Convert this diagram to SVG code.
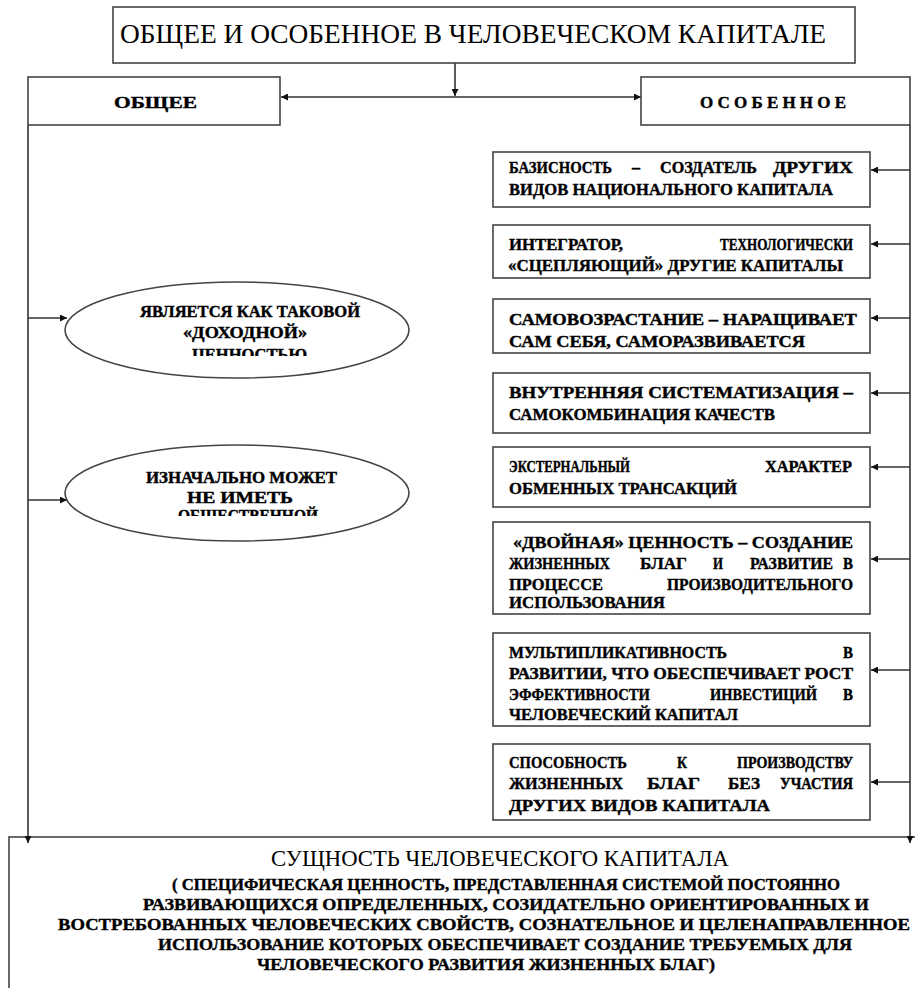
<svg xmlns="http://www.w3.org/2000/svg" width="915" height="988" viewBox="0 0 915 988">
<style>
.box{fill:#fff;stroke:#444;stroke-width:1.6}
.ln{fill:none;stroke:#333;stroke-width:1.6}
.t{font-family:"Liberation Serif","Times New Roman",serif;font-weight:bold;font-size:17px;fill:#000;stroke:#000;stroke-width:0.4px}
.e{font-family:"Liberation Serif","Times New Roman",serif;font-weight:bold;font-size:16px;fill:#000;stroke:#000;stroke-width:0.4px}
.n{font-family:"Liberation Serif","Times New Roman",serif;font-weight:normal;fill:#000}
</style>
<defs>
<marker id="ah" viewBox="0 0 10 10" refX="10" refY="5" markerWidth="9" markerHeight="7" markerUnits="userSpaceOnUse" orient="auto">
<path d="M0,0 L10,5 L0,10 z" fill="#111"/>
</marker>
<clipPath id="c1"><rect x="60" y="280" width="360" height="76"/></clipPath>
<clipPath id="c2"><rect x="60" y="440" width="360" height="76"/></clipPath>
</defs>

<g id="bottom">
<rect class="box" x="9" y="837" width="930" height="200"/>
<text class="n" x="271" y="866" font-size="23" textLength="458" lengthAdjust="spacingAndGlyphs">СУЩНОСТЬ ЧЕЛОВЕЧЕСКОГО КАПИТАЛА</text>
<text class="t" x="172" y="890" textLength="668" lengthAdjust="spacingAndGlyphs">( СПЕЦИФИЧЕСКАЯ ЦЕННОСТЬ, ПРЕДСТАВЛЕННАЯ СИСТЕМОЙ ПОСТОЯННО</text>
<text class="t" x="143" y="910" textLength="726" lengthAdjust="spacingAndGlyphs">РАЗВИВАЮЩИХСЯ ОПРЕДЕЛЕННЫХ, СОЗИДАТЕЛЬНО ОРИЕНТИРОВАННЫХ И</text>
<text class="t" x="58" y="930" textLength="852" lengthAdjust="spacingAndGlyphs">ВОСТРЕБОВАННЫХ ЧЕЛОВЕЧЕСКИХ СВОЙСТВ, СОЗНАТЕЛЬНОЕ И ЦЕЛЕНАПРАВЛЕННОЕ</text>
<text class="t" x="158" y="950" textLength="694" lengthAdjust="spacingAndGlyphs">ИСПОЛЬЗОВАНИЕ КОТОРЫХ ОБЕСПЕЧИВАЕТ СОЗДАНИЕ ТРЕБУЕМЫХ ДЛЯ</text>
<text class="t" x="257" y="970" textLength="458" lengthAdjust="spacingAndGlyphs">ЧЕЛОВЕЧЕСКОГО РАЗВИТИЯ ЖИЗНЕННЫХ БЛАГ)</text>
</g>

<g id="connectors">
<path class="ln" d="M455,63 V96" marker-end="url(#ah)"/>
<path class="ln" d="M455,97 H281" marker-end="url(#ah)"/>
<path class="ln" d="M455,97 H641" marker-end="url(#ah)"/>
<path class="ln" d="M28,125 V843" marker-end="url(#ah)"/>
<path class="ln" d="M910,125 V843" marker-end="url(#ah)"/>
<path class="ln" d="M28,318 H67" marker-end="url(#ah)"/>
<path class="ln" d="M28,500 H67" marker-end="url(#ah)"/>
<path class="ln" d="M910,170 H871" marker-end="url(#ah)"/>
<path class="ln" d="M910,244 H871" marker-end="url(#ah)"/>
<path class="ln" d="M910,318 H871" marker-end="url(#ah)"/>
<path class="ln" d="M910,393 H871" marker-end="url(#ah)"/>
<path class="ln" d="M910,467 H871" marker-end="url(#ah)"/>
<path class="ln" d="M910,559 H871" marker-end="url(#ah)"/>
<path class="ln" d="M910,670 H871" marker-end="url(#ah)"/>
<path class="ln" d="M910,782 H871" marker-end="url(#ah)"/>
</g>

<g id="title">
<rect class="box" x="113" y="7" width="742" height="56"/>
<text class="n" x="120" y="43" font-size="27" textLength="706" lengthAdjust="spacingAndGlyphs">ОБЩЕЕ И ОСОБЕННОЕ  В  ЧЕЛОВЕЧЕСКОМ  КАПИТАЛЕ</text>
</g>

<g id="common">
<rect class="box" x="28" y="77" width="252" height="48"/>
<text class="t" x="114" y="108" font-size="20" textLength="83" lengthAdjust="spacingAndGlyphs">ОБЩЕЕ</text>
</g>

<g id="special">
<rect class="box" x="641" y="77" width="269" height="48"/>
<text class="t" x="700" y="108" font-size="20" textLength="146" lengthAdjust="spacing">ОСОБЕННОЕ</text>
</g>

<g id="ellipse1">
<ellipse class="box" cx="237" cy="330" rx="172" ry="48"/>
<g clip-path="url(#c1)">
<text class="e" x="140" y="317" textLength="220" lengthAdjust="spacingAndGlyphs">ЯВЛЯЕТСЯ КАК ТАКОВОЙ</text>
<text class="e" x="183" y="338" textLength="124" lengthAdjust="spacingAndGlyphs">«ДОХОДНОЙ»</text>
<text class="e" x="192" y="360" textLength="115" lengthAdjust="spacingAndGlyphs">ЦЕННОСТЬЮ</text>
</g>
</g>

<g id="ellipse2">
<ellipse class="box" cx="237" cy="493" rx="172" ry="48"/>
<g clip-path="url(#c2)">
<text class="e" x="146" y="483" textLength="191" lengthAdjust="spacingAndGlyphs">ИЗНАЧАЛЬНО МОЖЕТ</text>
<text class="e" x="187" y="503" textLength="106" lengthAdjust="spacingAndGlyphs">НЕ ИМЕТЬ</text>
<text class="e" x="178" y="521" textLength="140" lengthAdjust="spacingAndGlyphs">ОБЩЕСТВЕННОЙ</text>
</g>
</g>

<g id="box1">
<rect class="box" x="493" y="152" width="377" height="55"/>
<text class="t" x="509" y="173" textLength="103" lengthAdjust="spacingAndGlyphs">БАЗИСНОСТЬ</text>
<text class="t" x="632" y="173" textLength="8" lengthAdjust="spacingAndGlyphs">–</text>
<text class="t" x="660" y="173" textLength="97" lengthAdjust="spacingAndGlyphs">СОЗДАТЕЛЬ</text>
<text class="t" x="773" y="173" textLength="80" lengthAdjust="spacingAndGlyphs">ДРУГИХ</text>
<text class="t" x="509" y="195" textLength="324" lengthAdjust="spacingAndGlyphs">ВИДОВ НАЦИОНАЛЬНОГО КАПИТАЛА</text>
</g>

<g id="box2">
<rect class="box" x="493" y="225" width="377" height="53"/>
<text class="t" x="509" y="250" textLength="114" lengthAdjust="spacingAndGlyphs">ИНТЕГРАТОР,</text>
<text class="t" x="720" y="250" textLength="133" lengthAdjust="spacingAndGlyphs">ТЕХНОЛОГИЧЕСКИ</text>
<text class="t" x="508" y="271" textLength="335" lengthAdjust="spacingAndGlyphs">«СЦЕПЛЯЮЩИЙ» ДРУГИЕ  КАПИТАЛЫ</text>
</g>

<g id="box3">
<rect class="box" x="493" y="299" width="377" height="54"/>
<text class="t" x="509" y="325" textLength="348" lengthAdjust="spacingAndGlyphs">САМОВОЗРАСТАНИЕ – НАРАЩИВАЕТ</text>
<text class="t" x="509" y="347" textLength="296" lengthAdjust="spacingAndGlyphs">САМ СЕБЯ,  САМОРАЗВИВАЕТСЯ</text>
</g>

<g id="box4">
<rect class="box" x="493" y="373" width="377" height="60"/>
<text class="t" x="509" y="398" textLength="344" lengthAdjust="spacingAndGlyphs">ВНУТРЕННЯЯ  СИСТЕМАТИЗАЦИЯ –</text>
<text class="t" x="509" y="420" textLength="266" lengthAdjust="spacingAndGlyphs">САМОКОМБИНАЦИЯ КАЧЕСТВ</text>
</g>

<g id="box5">
<rect class="box" x="493" y="447" width="377" height="60"/>
<text class="t" x="509" y="472" textLength="121" lengthAdjust="spacingAndGlyphs">ЭКСТЕРНАЛЬНЫЙ</text>
<text class="t" x="765" y="472" textLength="87" lengthAdjust="spacingAndGlyphs">ХАРАКТЕР</text>
<text class="t" x="509" y="494" textLength="228" lengthAdjust="spacingAndGlyphs">ОБМЕННЫХ ТРАНСАКЦИЙ</text>
</g>

<g id="box6">
<rect class="box" x="493" y="522" width="377" height="92"/>
<text class="t" x="513" y="548" textLength="340" lengthAdjust="spacingAndGlyphs">«ДВОЙНАЯ»  ЦЕННОСТЬ – СОЗДАНИЕ</text>
<text class="t" x="509" y="569" textLength="101" lengthAdjust="spacingAndGlyphs">ЖИЗНЕННЫХ</text>
<text class="t" x="640" y="569" textLength="47" lengthAdjust="spacingAndGlyphs">БЛАГ</text>
<text class="t" x="713" y="569" textLength="10" lengthAdjust="spacingAndGlyphs">И</text>
<text class="t" x="750" y="569" textLength="83" lengthAdjust="spacingAndGlyphs">РАЗВИТИЕ</text>
<text class="t" x="843" y="569" textLength="10" lengthAdjust="spacingAndGlyphs">В</text>
<text class="t" x="509" y="590" textLength="94" lengthAdjust="spacingAndGlyphs">ПРОЦЕССЕ</text>
<text class="t" x="667" y="590" textLength="186" lengthAdjust="spacingAndGlyphs">ПРОИЗВОДИТЕЛЬНОГО</text>
<text class="t" x="509" y="608" textLength="156" lengthAdjust="spacingAndGlyphs">ИСПОЛЬЗОВАНИЯ</text>
</g>

<g id="box7">
<rect class="box" x="493" y="633" width="377" height="93"/>
<text class="t" x="509" y="658" textLength="218" lengthAdjust="spacingAndGlyphs">МУЛЬТИПЛИКАТИВНОСТЬ</text>
<text class="t" x="843" y="658" textLength="10" lengthAdjust="spacingAndGlyphs">В</text>
<text class="t" x="509" y="679" textLength="344" lengthAdjust="spacingAndGlyphs">РАЗВИТИИ, ЧТО ОБЕСПЕЧИВАЕТ РОСТ</text>
<text class="t" x="509" y="700" textLength="141" lengthAdjust="spacingAndGlyphs">ЭФФЕКТИВНОСТИ</text>
<text class="t" x="710" y="700" textLength="107" lengthAdjust="spacingAndGlyphs">ИНВЕСТИЦИЙ</text>
<text class="t" x="843" y="700" textLength="10" lengthAdjust="spacingAndGlyphs">В</text>
<text class="t" x="509" y="720" textLength="229" lengthAdjust="spacingAndGlyphs">ЧЕЛОВЕЧЕСКИЙ КАПИТАЛ</text>
</g>

<g id="box8">
<rect class="box" x="493" y="744" width="377" height="76"/>
<text class="t" x="509" y="768" textLength="118" lengthAdjust="spacingAndGlyphs">СПОСОБНОСТЬ</text>
<text class="t" x="677" y="768" textLength="10" lengthAdjust="spacingAndGlyphs">К</text>
<text class="t" x="737" y="768" textLength="116" lengthAdjust="spacingAndGlyphs">ПРОИЗВОДСТВУ</text>
<text class="t" x="509" y="789" textLength="114" lengthAdjust="spacingAndGlyphs">ЖИЗНЕННЫХ</text>
<text class="t" x="647" y="789" textLength="53" lengthAdjust="spacingAndGlyphs">БЛАГ</text>
<text class="t" x="728" y="789" textLength="32" lengthAdjust="spacingAndGlyphs">БЕЗ</text>
<text class="t" x="780" y="789" textLength="73" lengthAdjust="spacingAndGlyphs">УЧАСТИЯ</text>
<text class="t" x="509" y="811" textLength="261" lengthAdjust="spacingAndGlyphs">ДРУГИХ ВИДОВ КАПИТАЛА</text>
</g>
</svg>
